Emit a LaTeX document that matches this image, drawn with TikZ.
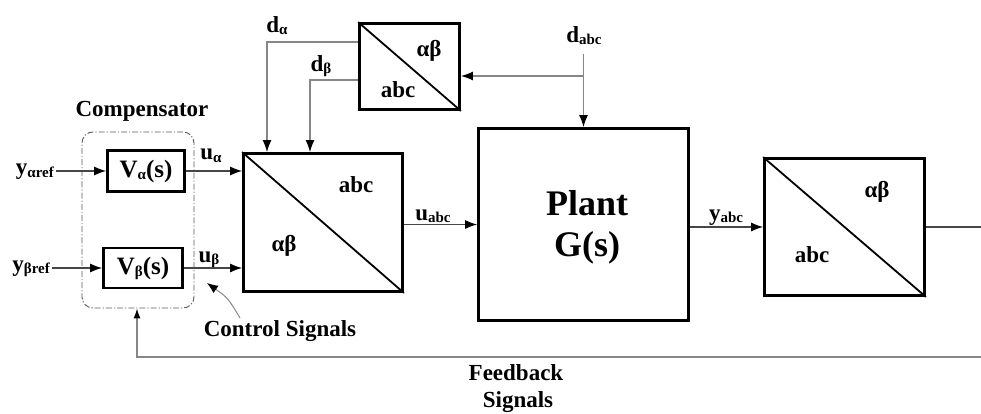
\documentclass[tikz,border=0pt]{standalone}
\usepackage{fontspec}
\setmainfont{Liberation Serif}
\usetikzlibrary{arrows.meta}
\definecolor{lnA}{RGB}{70,70,70}
\definecolor{lnB}{RGB}{135,135,135}
\definecolor{dsh}{RGB}{90,90,90}
\newcommand\fs[1]{\fontsize{#1}{#1}\selectfont}
\newcommand\lab[2]{{\fs{23}#1}\raisebox{-2pt}{\fs{15}#2}}
\tikzset{
  txt/.style={inner sep=0pt, font=\bfseries\fs{23}},
  blk/.style={draw=black, line width=2.8pt, inner sep=0pt},
  vbox/.style={draw=black, line width=2.8pt, inner sep=0pt, font=\bfseries},
  dbox/.style={draw=dsh, line width=0.9pt, rounded corners=11pt, dash pattern=on 6pt off 2pt on 1.2pt off 2pt},
  diag/.style={draw=black, line width=1.8pt},
  tip/.style={-{Latex[length=12pt,width=9pt,color=black]}},
  sigA/.style={draw=lnA, line width=1.1pt, tip},
  sigB/.style={draw=lnB, line width=1.3pt, tip},
  lnAs/.style={draw=lnA, line width=1.1pt},
  lnBs/.style={draw=lnB, line width=1.3pt},
}
\begin{document}
\begin{tikzpicture}[x=1pt,y=-1pt]
\useasboundingbox (0,0) rectangle (981,414);

% compensator
\node[dbox, minimum width=112pt, minimum height=176pt] (comp) at (138,220) {};
\node[txt] (compl) at (142,111) {Compensator};
\node[vbox, minimum width=77pt, minimum height=41pt] (va) at (146,171) {\fs{25}V\raisebox{-2pt}{\fs{15}α}(s)};
\node[vbox, minimum width=79pt, minimum height=40pt] (vb) at (143,268) {\fs{25}V\raisebox{-2pt}{\fs{15}β}(s)};

\coordinate (ya) at (56,171);
\coordinate (yb) at (52,268);
\node[txt, anchor=base east] (yal) at (54,175) {\lab{y}{αref}};
\node[txt, anchor=base east] (ybl) at (50,271) {\lab{y}{βref}};
\draw[sigA] (ya) -- (va);
\draw[sigA] (yb) -- (vb);

% alpha-beta -> abc block
\node[blk, minimum width=159pt, minimum height=138pt] (T1) at (323,222.5) {};
\draw[diag] (T1.north west) -- (T1.south east);
\node[txt] (T1a) at (356,185) {abc};
\node[txt] (T1b) at (284,246) {αβ};

\draw[sigA] (va) -- (va -| T1.west);
\draw[sigA] (vb) -- (vb -| T1.west);
\node[txt, anchor=base] (ual) at (211,160) {\lab{u}{α}};
\node[txt, anchor=base] (ubl) at (209,262) {\lab{u}{β}};

% top block abc -> alpha-beta
\node[blk, minimum width=100pt, minimum height=86pt] (T0) at (409.5,66.5) {};
\draw[diag] (T0.north west) -- (T0.south east);
\node[txt] (T0a) at (429,51) {αβ};
\node[txt] (T0b) at (398,90) {abc};

% plant
\node[blk, minimum width=210pt, minimum height=192pt] (P) at (583.5,224.5) {};
\node[txt, font=\bfseries\fs{36}] (Pa) at (587,203) {Plant};
\node[txt, font=\bfseries\fs{36}] (Pb) at (587,248) {G(s)};

% right block
\node[blk, minimum width=160pt, minimum height=137pt] (R) at (844.5,227) {};
\draw[diag] (R.north west) -- (R.south east);
\node[txt] (Ra) at (877,192) {αβ};
\node[txt] (Rb) at (812,255) {abc};

% main signal path
\draw[sigA] (T1.east |- P.west) -- (P.west);
\node[txt, anchor=base] (uabcl) at (433,220) {\lab{u}{abc}};
\draw[sigA] (P.east |- R.west) -- (R.west);
\node[txt, anchor=base] (yabcl) at (726,220) {\lab{y}{abc}};
\coordinate (out) at (981,227);
\draw[lnAs] (R.east) -- (out);

% disturbances
\coordinate (ds) at (583.5,54);
\coordinate (dbr) at (583.5,76);
\node[txt, anchor=base] (dabcl) at (584,43) {\lab{d}{abc}};
\draw[sigB] (ds) -- (P.north);
\draw[sigB] (dbr) -- (dbr -| T0.east);

\coordinate (da) at (267,42);
\coordinate (db) at (310,80);
\node[txt, anchor=base] (dal) at (277,33) {\lab{d}{α}};
\node[txt, anchor=base] (dbl) at (321,72) {\lab{d}{β}};
\draw[sigB] (T0.west |- da) -- (da) -- (da |- T1.north);
\draw[sigB] (T0.west |- db) -- (db) -- (db |- T1.north);

% feedback
\coordinate (fr) at (981,357);
\coordinate (fl) at (137,357);
\draw[sigB, -{Latex[length=10pt,width=7pt,color=black]}] (fr) -- (fl) -- (fl |- comp.south);
\node[txt] (fb1) at (516,373) {Feedback};
\node[txt] (fb2) at (518,402) {Signals};

% control signals
\node[txt] (csl) at (280,331) {Control Signals};
\coordinate (cs) at (240,318);
\coordinate (ct) at (207,283);
\draw[draw=lnB, line width=1pt, -{Latex[length=11pt,width=9pt,color=black]}] (cs) .. controls (228,298) .. (ct);
\end{tikzpicture}
\end{document}
